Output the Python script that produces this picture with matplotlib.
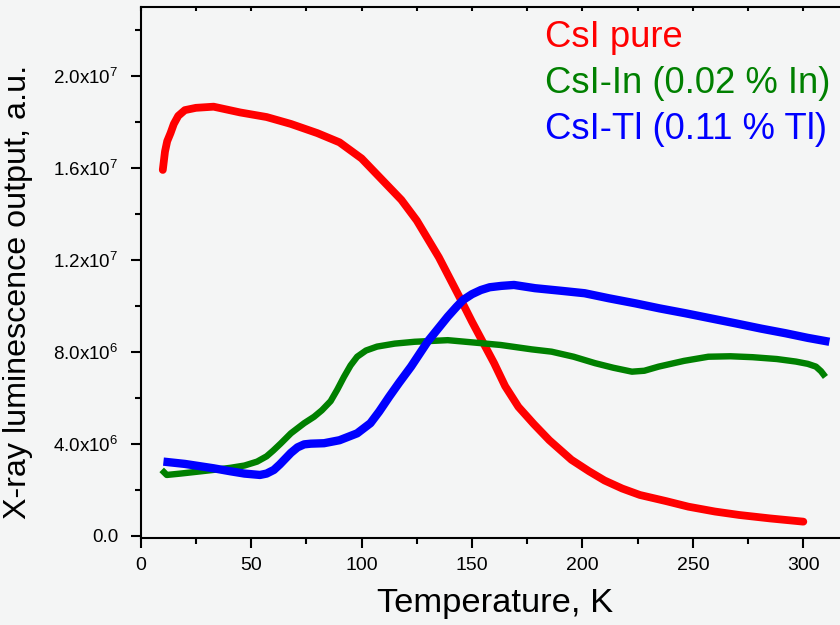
import numpy as np
import matplotlib
matplotlib.use('Agg')
import matplotlib.pyplot as plt
from matplotlib.ticker import FuncFormatter, MultipleLocator

plt.rcParams['font.family'] = ['Liberation Sans', 'DejaVu Sans']
plt.rcParams['mathtext.fontset'] = 'custom'
plt.rcParams['mathtext.rm'] = 'Liberation Sans'
plt.rcParams['mathtext.it'] = 'Liberation Sans'

# CsI pure
t_pure = [10, 11, 12, 13.5, 15, 17, 20, 25, 33, 45, 57, 68, 80, 90, 100, 109,
          118, 125, 135, 145, 150, 155, 160, 165, 171, 178, 185, 195, 203, 210,
          218, 226, 238, 248, 260, 271, 285, 300]
v_pure = [15.9, 16.7, 17.15, 17.5, 17.9, 18.25, 18.5, 18.6, 18.65, 18.4, 18.2,
          17.9, 17.5, 17.1, 16.4, 15.5, 14.6, 13.7, 12.1, 10.25, 9.3, 8.4, 7.5,
          6.5, 5.6, 4.85, 4.15, 3.3, 2.8, 2.4, 2.05, 1.77, 1.5, 1.26, 1.05, 0.9,
          0.75, 0.61]

# CsI-In (0.02 % In)
t_in = [9.5, 11.8, 18, 25.5, 33, 40.6, 47, 52.7, 57, 60, 63.3, 68, 74, 78.5,
        82, 86, 89, 92, 95, 98, 102, 107, 115, 124, 139, 154, 163, 177, 186,
        196, 205.7, 214, 222.4, 228, 234.5, 246, 257, 267, 277, 288, 296.6,
        302, 305.7, 308, 310]
v_in = [2.86, 2.64, 2.7, 2.78, 2.86, 2.95, 3.05, 3.22, 3.45, 3.7, 4.0, 4.45,
        4.89, 5.17, 5.45, 5.85, 6.35, 6.9, 7.4, 7.78, 8.05, 8.22, 8.35, 8.43,
        8.5, 8.37, 8.29, 8.1, 8.0, 7.78, 7.5, 7.3, 7.13, 7.17, 7.35, 7.6, 7.78,
        7.8, 7.76, 7.68, 7.57, 7.47, 7.35, 7.15, 6.9]

# CsI-Tl (0.11 % Tl)
t_tl = [10.3, 20, 33, 40.6, 47, 54, 57, 60.3, 63, 66, 68, 71, 74, 77, 83, 90,
        98, 104, 108, 112.5, 117, 122.4, 130, 139, 143, 146, 150, 154, 158,
        163.3, 169, 178.5, 190, 201, 212, 224, 235, 246.6, 258, 269.4, 281,
        292, 302, 311.8]
v_tl = [3.22, 3.12, 2.93, 2.8, 2.7, 2.64, 2.7, 2.86, 3.1, 3.4, 3.6, 3.84, 3.97,
        4.0, 4.02, 4.15, 4.45, 4.89, 5.4, 6.04, 6.65, 7.35, 8.45, 9.52, 9.95,
        10.25, 10.5, 10.68, 10.8, 10.86, 10.9, 10.76, 10.65, 10.54, 10.32,
        10.1, 9.88, 9.67, 9.45, 9.23, 9.0, 8.8, 8.6, 8.43]

legend_texts = ['CsI pure', 'CsI-In (0.02 % In)', 'CsI-Tl (0.11 % Tl)']
colors = ['#ff0000', '#008000', '#0000ff']

bg = '#f4f5f5'
fig = plt.figure(figsize=(8.4, 6.25), dpi=100, facecolor=bg)
ax = fig.add_axes([0.1675, 0.1397, 1 - 0.1675, 0.9883 - 0.1397], facecolor=bg)

ax.plot(t_pure, np.array(v_pure) * 1e6, color=colors[0], lw=5.6,
        solid_capstyle='round', solid_joinstyle='round')
ax.plot(t_in, np.array(v_in) * 1e6, color=colors[1], lw=4.6,
        solid_capstyle='butt', solid_joinstyle='round')
ax.plot(t_tl, np.array(v_tl) * 1e6, color=colors[2], lw=6.0,
        solid_capstyle='butt', solid_joinstyle='round')

ax.set_xlim(0, 316.6)
ax.set_ylim(-0.087e6, 2.297e7)

def yfmt(v, pos):
    if v == 0:
        return '0.0'
    e = int(np.floor(np.log10(abs(v))))
    return f'{v / 10**e:.1f}x10$^{{{e}}}$'

ax.xaxis.set_major_locator(MultipleLocator(50))
ax.xaxis.set_minor_locator(MultipleLocator(25))
ax.yaxis.set_major_locator(MultipleLocator(4e6))
ax.yaxis.set_minor_locator(MultipleLocator(2e6))
ax.yaxis.set_major_formatter(FuncFormatter(yfmt))

for s in ['left', 'bottom', 'top']:
    ax.spines[s].set_linewidth(1.5)
ax.spines['right'].set_visible(False)

ax.tick_params(axis='x', which='major', direction='out', length=7, width=1.5,
               labelsize=14, pad=7, top=True)
ax.tick_params(axis='x', which='minor', direction='out', length=4.5, width=1.5,
               top=True)
ax.tick_params(axis='y', which='major', direction='out', length=7, width=1.5,
               labelsize=13.5, pad=9)
ax.tick_params(axis='y', which='minor', direction='out', length=4.5, width=1.5)
# top ticks point inward and are short
for tk in ax.xaxis.get_major_ticks() + ax.xaxis.get_minor_ticks():
    tk.tick2line.set_marker(3)
    tk.tick2line.set_markersize(3)

ax.set_xlabel('Temperature, K', fontsize=24.8, labelpad=10)
ax.xaxis.label.set_x(0.5067)
ax.set_ylabel('X-ray luminescence output, a.u.', fontsize=23.2)
ax.yaxis.set_label_coords(-0.154, 0.463)

for i, (txt, c) in enumerate(zip(legend_texts, colors)):
    fig.text(545 / 840, 1 - (46.7 + 46.3 * i) / 625, txt, color=c,
             fontsize=26.2, va='baseline', ha='left')

fig.savefig('out.png', dpi=100, facecolor=bg)
